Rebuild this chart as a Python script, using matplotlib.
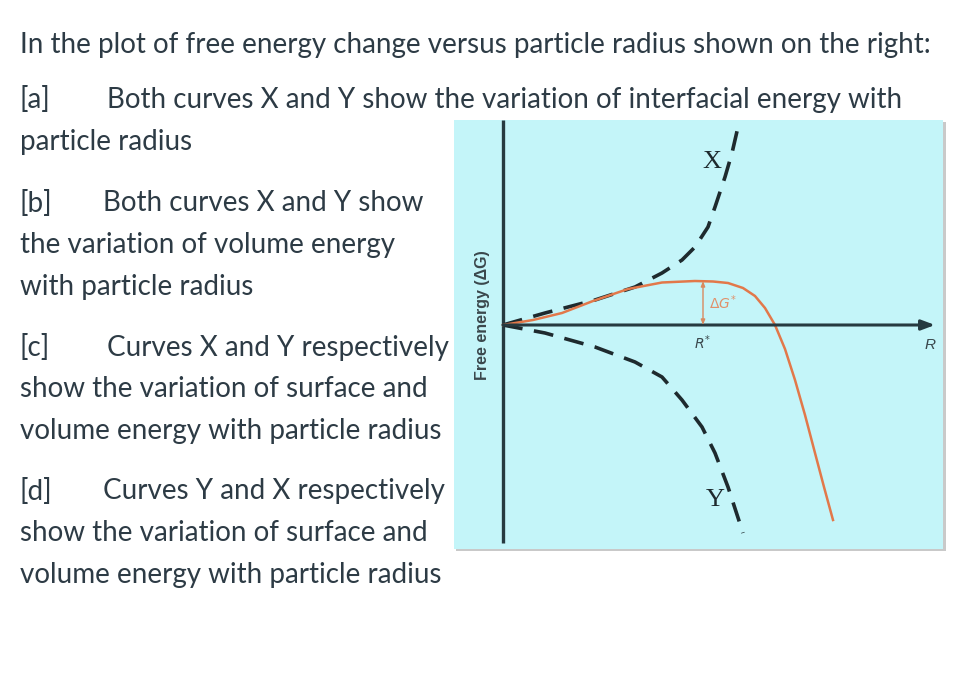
import matplotlib
matplotlib.use("Agg")
import matplotlib.pyplot as plt

# question text
question = "In the plot of free energy change versus particle radius shown on the right:"
options = [
    ("[a]", ["Both curves X and Y show the variation of interfacial energy with"], ["particle radius"]),
    ("[b]", ["Both curves X and Y show"], ["the variation of volume energy", "with particle radius"]),
    ("[c]", ["Curves X and Y respectively"], ["show the variation of surface and", "volume energy with particle radius"]),
    ("[d]", ["Curves Y and X respectively"], ["show the variation of surface and", "volume energy with particle radius"]),
]

# curve X (dashed, rising)
x_r = [0, 0.42, 0.92, 1.32, 1.59, 1.79, 1.92, 2.05, 2.12, 2.22, 2.29, 2.35]
x_g = [0, 0.12, 0.25, 0.38, 0.52, 0.65, 0.78, 0.98, 1.18, 1.48, 1.72, 1.98]
# curve Y (dashed, falling)
y_r = [0, 0.42, 0.92, 1.32, 1.59, 1.79, 1.99, 2.12, 2.25, 2.40]
y_g = [0, -0.08, -0.22, -0.37, -0.52, -0.75, -1.02, -1.28, -1.62, -2.08]
# total free energy (orange)
t_r = [0, 0.30, 0.59, 0.90, 1.25, 1.59, 1.92, 2.10, 2.25, 2.40, 2.52, 2.62, 2.72, 2.82, 2.92, 3.02, 3.12, 3.21, 3.30]
t_g = [0, 0.05, 0.12, 0.24, 0.36, 0.425, 0.44, 0.435, 0.42, 0.37, 0.29, 0.17, 0.0, -0.24, -0.55, -0.90, -1.28, -1.62, -1.95]
r_star = 2.0
g_star = 0.44

W, H = 974, 680
fig = plt.figure(figsize=(W / 100, H / 100), dpi=100)
fig.patch.set_facecolor("white")

txt_col = "#2d3b45"
fs = 20
def fy(py):
    return 1 - py / H

fig.text(20 / W, fy(45), question, family="Lato", fontsize=fs, color=txt_col, va="center")
rows = [[100, 142], [203, 245, 287], [348, 389, 431], [491, 533, 575]]
starts = [107, 103, 107, 103]
for (lab, first, rest), ys, sx in zip(options, rows, starts):
    fig.text(20 / W, fy(ys[0]), lab, family="Lato", fontsize=fs, color=txt_col, va="center")
    fig.text(sx / W, fy(ys[0]), first[0], family="Lato", fontsize=fs, color=txt_col, va="center")
    for line, yy in zip(rest, ys[1:]):
        fig.text(20 / W, fy(yy), line, family="Lato", fontsize=fs, color=txt_col, va="center")

# picture panel (with grey shadow)
shadow = fig.add_axes([456 / W, 1 - 551 / H, 490 / W, 429 / H])
shadow.set_facecolor("#c9c9c9")
shadow.set_xticks([]); shadow.set_yticks([])
for s in shadow.spines.values():
    s.set_visible(False)

ax = fig.add_axes([454 / W, 1 - 549 / H, 489 / W, 429 / H])
ax.set_facecolor("#c4f5f9")
ax.set_xlim(-0.49, 4.40)
ax.set_ylim(-2.24, 2.05)
ax.set_xticks([]); ax.set_yticks([])
for s in ax.spines.values():
    s.set_visible(False)

axis_col = "#263a40"
ax.plot([0, 0], [-2.18, 2.05], color=axis_col, lw=2.4, solid_capstyle="butt")
ax.annotate("", xy=(4.32, 0), xytext=(0, 0),
            arrowprops=dict(arrowstyle="-|>,head_length=0.8,head_width=0.3", color=axis_col, lw=2.2,
                            shrinkA=0, shrinkB=0))

ax.plot(x_r, x_g, color="#1e2a2e", lw=2.6, dashes=(5.5, 3.2))
ax.plot(y_r, y_g, color="#1e2a2e", lw=2.6, dashes=(5.5, 3.2))
ax.plot(t_r, t_g, color="#e2784a", lw=1.8)

ax.annotate("", xy=(r_star, g_star), xytext=(r_star, 0),
            arrowprops=dict(arrowstyle="<|-|>,head_length=0.3,head_width=0.12", color="#d98a60", lw=1.0,
                            shrinkA=0, shrinkB=0))
ax.text(r_star + 0.06, 0.22, r"$\Delta G^{*}$", color="#e0906a", fontsize=10, va="center", ha="left")
ax.text(r_star, -0.18, r"$R^{*}$", color="#3a474c", fontsize=10, va="center", ha="center")
ax.text(4.27, -0.2, "R", color="#3a474c", fontsize=11, style="italic", va="center", ha="center",
        family="Liberation Sans")
ax.text(2.09, 1.63, "X", color="#1e2a2e", fontsize=19, family="Liberation Serif", va="center", ha="center")
ax.text(2.12, -1.75, "Y", color="#1e2a2e", fontsize=19, family="Liberation Serif", va="center", ha="center")
ax.text(-0.20, 0.1, "Free energy (\u0394G)", rotation=90, color="#3a474c", fontsize=11.5,
        family="Liberation Sans", fontweight="bold", va="center", ha="center")

fig.savefig("out.png", dpi=100, facecolor="white")
